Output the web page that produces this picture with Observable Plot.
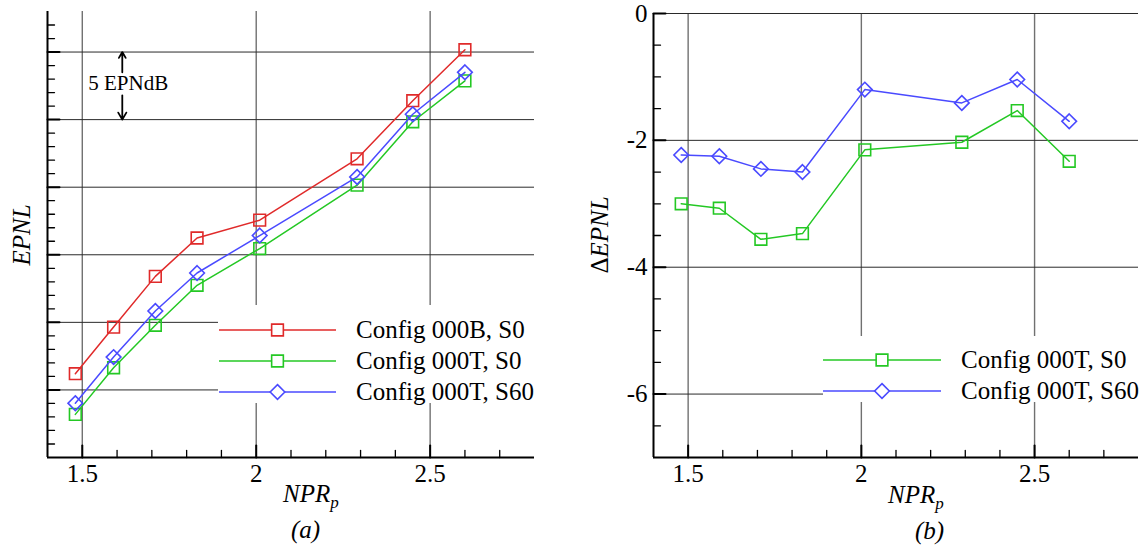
<!DOCTYPE html>
<html><head><meta charset="utf-8">
<script src="https://cdn.jsdelivr.net/npm/d3@7"></script>
<script src="https://cdn.jsdelivr.net/npm/@observablehq/plot@0.6"></script>
<style>
body{margin:0;background:#fff;}
#wrap{position:relative;width:1146px;height:547px;overflow:hidden;font-family:"Liberation Serif","Times New Roman",serif;}
#wrap > svg{position:absolute;top:0;}
#wrap text{font-family:"Liberation Serif","Times New Roman",serif;}
</style></head><body><div id="wrap"></div>
<script>
// ---------- data ----------
const npr = [1.48, 1.59, 1.71, 1.83, 2.01, 2.29, 2.45, 2.60];
const epnl000B_S0  = [6.2, 9.65, 13.4, 16.24, 17.56, 22.1, 26.4, 30.17];   // relative EPNL, dB
const epnl000T_S0  = [3.19, 6.64, 9.78, 12.74, 15.46, 20.15, 24.84, 27.87];
const epnl000T_S60 = [4.02, 7.43, 10.84, 13.65, 16.42, 20.76, 25.4, 28.5];
const dEpnl000T_S0  = [-3.0, -3.07, -3.56, -3.47, -2.15, -2.03, -1.53, -2.33];
const dEpnl000T_S60 = [-2.23, -2.25, -2.45, -2.50, -1.2, -1.41, -1.04, -1.70];
const seriesNames = ["Config 000B, S0", "Config 000T, S0", "Config 000T, S60"];
const seriesSymbols = ["square", "square", "diamond2"];
const seriesColors = ["#e02a2a", "#24c824", "#4a4aff"];

const xDomain = [1.4, 2.8];
const xTicks = [1.5, 2, 2.5];
const xMinorTicks = [1.6, 1.7, 1.8, 1.9, 2.1, 2.2, 2.3, 2.4, 2.6, 2.7];
const yDomainA = [0, 33];
const yMajorA = [5, 10, 15, 20, 25, 30];
const yMinorA = [1,2,3,4,6,7,8,9,11,12,13,14,16,17,18,19,21,22,23,24,26,27,28,29,31,32];
const yDomainB = [-7, 0];
const yMajorB = [0, -2, -4, -6];
const yMinorB = [-0.5, -1, -1.5, -2.5, -3, -3.5, -4.5, -5, -5.5, -6.5];
const annotText = "5 EPNdB";
const annotArrows = [{x: 1.615, y1: 28.5, y2: 30}, {x: 1.615, y1: 26.8, y2: 25}];

// ---------- helpers ----------
const FONT = '"Liberation Serif", "Times New Roman", serif';
const tickShape = {draw(ctx, l) { ctx.moveTo(0, 0); ctx.lineTo(0, -l); }};
const rows = (vals, k) => npr.map((x, i) => ({x, y: vals[i], k}));

function seriesMarks(data, k) {
  return [
    Plot.line(data, {x: "x", y: "y", stroke: seriesColors[k], strokeWidth: 1.5}),
    Plot.dot(data, {x: "x", y: "y", symbol: seriesSymbols[k], r: 6.6, stroke: seriesColors[k], fill: "none", strokeWidth: 1.6})
  ];
}
function tickMarks(xMaj, xMin, yMaj, yMin) {
  const common = {anchor: "start", shape: tickShape, stroke: "black"};
  return [
    Plot.vector(xMaj, {x: d => d, frameAnchor: "bottom", length: 12, rotate: 0, strokeWidth: 2, ...common}),
    Plot.vector(xMin, {x: d => d, frameAnchor: "bottom", length: 7, rotate: 0, strokeWidth: 1.3, ...common}),
    Plot.vector(yMaj, {y: d => d, frameAnchor: "left", length: 12, rotate: 90, strokeWidth: 2, ...common}),
    Plot.vector(yMin, {y: d => d, frameAnchor: "left", length: 7, rotate: 90, strokeWidth: 1.3, ...common})
  ];
}

// ---------- panel (a) ----------
const left = Plot.plot({
  width: 573, height: 547,
  marginLeft: 47, marginRight: 39, marginTop: 11, marginBottom: 90,
  x: {domain: xDomain, axis: null},
  y: {domain: yDomainA, axis: null},
  style: {fontFamily: FONT, fontSize: "25px", background: "transparent", color: "black"},
  marks: [
    Plot.ruleX(xTicks, {stroke: "#707070", strokeWidth: 1.4}),
    Plot.ruleY(yMajorA, {stroke: "#2a2a2a", strokeWidth: 1}),
    ...seriesMarks(rows(epnl000B_S0, 0), 0),
    ...seriesMarks(rows(epnl000T_S0, 1), 1),
    ...seriesMarks(rows(epnl000T_S60, 2), 2),
    Plot.ruleX([xDomain[0]], {stroke: "black", strokeWidth: 2}),
    Plot.ruleY([yDomainA[0]], {stroke: "black", strokeWidth: 2}),
    ...tickMarks(xTicks, xMinorTicks, yMajorA, yMinorA),
    Plot.axisX(xTicks, {tickSize: 0, tickPadding: 7, tickFormat: d => String(d), fontSize: 25, label: null}),
    Plot.arrow(annotArrows, {x1: "x", x2: "x", y1: "y1", y2: "y2", stroke: "black", strokeWidth: 1.8, headLength: 9, headAngle: 60, bend: 0}),
    Plot.text([annotText], {x: 1.632, y: 27.67, text: d => d, fontSize: 21})
  ]
});

// ---------- panel (b) ----------
const right = Plot.plot({
  width: 573, height: 547,
  marginLeft: 80, marginRight: 8, marginTop: 13, marginBottom: 90,
  x: {domain: xDomain, axis: null},
  y: {domain: yDomainB, axis: null},
  style: {fontFamily: FONT, fontSize: "25px", background: "transparent", color: "black"},
  marks: [
    Plot.ruleX(xTicks, {stroke: "#707070", strokeWidth: 1.4}),
    Plot.ruleY(yMajorB, {stroke: "#2a2a2a", strokeWidth: 1}),
    ...seriesMarks(rows(dEpnl000T_S0, 1), 1),
    ...seriesMarks(rows(dEpnl000T_S60, 2), 2),
    Plot.ruleX([xDomain[0]], {stroke: "black", strokeWidth: 2}),
    Plot.ruleY([yDomainB[0]], {stroke: "black", strokeWidth: 2}),
    ...tickMarks(xTicks, xMinorTicks, yMajorB, yMinorB),
    Plot.axisX(xTicks, {tickSize: 0, tickPadding: 7, tickFormat: d => String(d), fontSize: 25, label: null}),
    Plot.axisY(yMajorB, {anchor: "left", tickSize: 0, tickPadding: 6, tickFormat: d => String(d), fontSize: 25, label: null})
  ]
});

const wrap = document.getElementById("wrap");
left.style.left = "0px";
right.style.left = "573px";
wrap.appendChild(left);
wrap.appendChild(right);

// ---------- overlay: legends, axis titles, captions ----------
const ov = d3.select(wrap).append("svg")
  .attr("width", 1146).attr("height", 547)
  .style("left", "0px").style("font-family", FONT);

function legend(x0, y0, w, h, lineX1, lineX2, textX, items) {
  ov.append("rect").attr("x", x0).attr("y", y0).attr("width", w).attr("height", h).attr("fill", "white");
  items.forEach(({k, y}) => {
    ov.append("line").attr("x1", lineX1).attr("x2", lineX2).attr("y1", y).attr("y2", y)
      .attr("stroke", seriesColors[k]).attr("stroke-width", 1.5);
    const sym = seriesSymbols[k] === "square" ? d3.symbolSquare : d3.symbolDiamond2;
    ov.append("path").attr("d", d3.symbol(sym, Math.PI * 6.6 * 6.6)())
      .attr("transform", `translate(${(lineX1 + lineX2) / 2},${y})`)
      .attr("fill", "white").attr("stroke", seriesColors[k]).attr("stroke-width", 1.6);
    ov.append("text").attr("x", textX).attr("y", y + 7.5).attr("font-size", 25).text(seriesNames[k]);
  });
}
legend(218, 305, 330, 98, 219, 336, 356, [{k: 0, y: 330}, {k: 1, y: 361}, {k: 2, y: 392}]);
legend(823, 336, 323, 66, 823, 941, 961, [{k: 1, y: 360}, {k: 2, y: 391}]);

// y titles
ov.append("text").attr("transform", "translate(30,235) rotate(-90)").attr("text-anchor", "middle")
  .attr("font-size", 25).attr("font-style", "italic").text("EPNL");
const dt = ov.append("text").attr("transform", "translate(608,235) rotate(-90)").attr("text-anchor", "middle")
  .attr("font-size", 25);
dt.append("tspan").text("\u0394");
dt.append("tspan").attr("font-style", "italic").text("EPNL");

// x titles
function nprLabel(x, y) {
  const t = ov.append("text").attr("x", x).attr("y", y).attr("font-size", 25).attr("font-style", "italic");
  t.append("tspan").text("NPR");
  t.append("tspan").attr("font-size", 17).attr("dy", 6).text("p");
}
nprLabel(283, 502);
nprLabel(888, 503);

// captions
ov.append("text").attr("x", 291).attr("y", 538).attr("font-size", 25).attr("font-style", "italic").text("(a)");
ov.append("text").attr("x", 915).attr("y", 539).attr("font-size", 25).attr("font-style", "italic").text("(b)");
</script></body></html>
